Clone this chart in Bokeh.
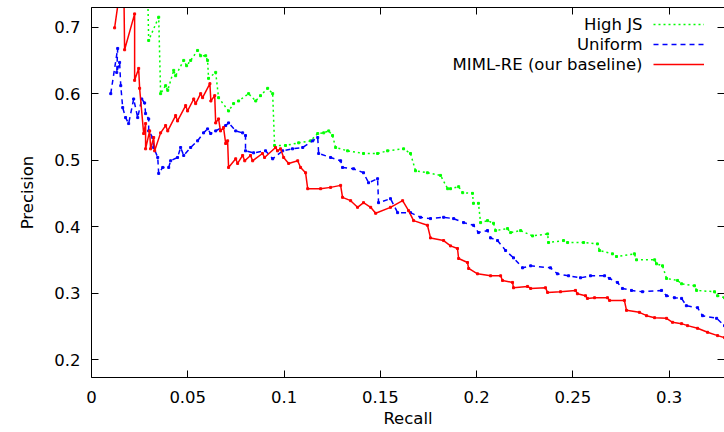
from bokeh.plotting import figure
from bokeh.models import Range1d, LinearAxis, Legend, LegendItem, Label, FixedTicker
from bokeh.embed import file_html
from bokeh.resources import INLINE

# ---- data (recall, precision) ----
miml = [(0.0120, 0.699), (0.0150, 0.760), (0.0168, 0.760), (0.0172, 0.666), (0.0224, 0.720),
        (0.0224, 0.620), (0.0245, 0.638), (0.0250, 0.608), (0.0271, 0.540), (0.0281, 0.555),
        (0.0281, 0.517), (0.0302, 0.544), (0.0307, 0.517), (0.0323, 0.534), (0.0328, 0.514),
        (0.0359, 0.541), (0.0385, 0.552), (0.0396, 0.544), (0.0437, 0.567), (0.0447, 0.559),
        (0.0489, 0.582), (0.0499, 0.574), (0.0531, 0.592), (0.0541, 0.585), (0.0567, 0.600),
        (0.0577, 0.594), (0.0615, 0.615), (0.0620, 0.589), (0.0640, 0.597), (0.0645, 0.556),
        (0.0660, 0.562), (0.0670, 0.544), (0.0686, 0.549), (0.0697, 0.525), (0.0707, 0.529),
        (0.0712, 0.489), (0.0749, 0.502), (0.0759, 0.495), (0.0785, 0.507), (0.0796, 0.499),
        (0.0826, 0.507), (0.0837, 0.499), (0.0888, 0.510), (0.0899, 0.504), (0.0956, 0.519),
        (0.0966, 0.514), (0.0982, 0.517), (0.0998, 0.504), (0.1024, 0.495), (0.1071, 0.499),
        (0.1086, 0.489), (0.1112, 0.481), (0.1123, 0.457), (0.1190, 0.457), (0.1242, 0.459),
        (0.1294, 0.462), (0.1304, 0.444), (0.1346, 0.439), (0.1382, 0.429), (0.1413, 0.436),
        (0.1450, 0.429), (0.1476, 0.420), (0.1553, 0.429), (0.1616, 0.439), (0.1647, 0.424),
        (0.1673, 0.409), (0.1745, 0.402), (0.1761, 0.383), (0.1829, 0.379), (0.1865, 0.371),
        (0.1901, 0.367), (0.1907, 0.352), (0.1953, 0.346), (0.1959, 0.337), (0.2005, 0.329),
        (0.2073, 0.326), (0.2125, 0.326), (0.2135, 0.319), (0.2187, 0.316), (0.2192, 0.308),
        (0.2265, 0.310), (0.2281, 0.307), (0.2358, 0.308), (0.2369, 0.301), (0.2436, 0.302),
        (0.2514, 0.304), (0.2524, 0.299), (0.2566, 0.296), (0.2576, 0.292), (0.2613, 0.293),
        (0.2680, 0.293), (0.2691, 0.289), (0.2768, 0.289), (0.2779, 0.274), (0.2846, 0.271),
        (0.2883, 0.266), (0.2925, 0.263), (0.2987, 0.262), (0.3018, 0.256), (0.3065, 0.254),
        (0.3096, 0.251), (0.3148, 0.247), (0.3200, 0.241), (0.3252, 0.236), (0.3288, 0.233),
        (0.3330, 0.230)]

uniform = [(0.0100, 0.600), (0.0136, 0.668), (0.0131, 0.632), (0.0146, 0.647), (0.0152, 0.612),
           (0.0162, 0.579), (0.0177, 0.564), (0.0193, 0.555), (0.0219, 0.592), (0.0240, 0.564),
           (0.0261, 0.592), (0.0276, 0.586), (0.0281, 0.570), (0.0297, 0.562), (0.0297, 0.544),
           (0.0318, 0.534), (0.0323, 0.519), (0.0344, 0.504), (0.0349, 0.480), (0.0370, 0.489),
           (0.0401, 0.489), (0.0411, 0.499), (0.0447, 0.504), (0.0463, 0.519), (0.0479, 0.507),
           (0.0515, 0.519), (0.0551, 0.529), (0.0582, 0.541), (0.0603, 0.547), (0.0619, 0.540),
           (0.0645, 0.544), (0.0697, 0.552), (0.0712, 0.556), (0.0749, 0.544), (0.0785, 0.541),
           (0.0800, 0.537), (0.0800, 0.514), (0.0842, 0.511), (0.0904, 0.514), (0.0941, 0.502),
           (0.0993, 0.514), (0.1044, 0.517), (0.1097, 0.519), (0.1149, 0.529), (0.1175, 0.534),
           (0.1180, 0.510), (0.1242, 0.504), (0.1294, 0.499), (0.1304, 0.489), (0.1361, 0.487),
           (0.1413, 0.481), (0.1439, 0.466), (0.1486, 0.472), (0.1491, 0.436), (0.1553, 0.442),
           (0.1590, 0.421), (0.1657, 0.421), (0.1709, 0.414), (0.1761, 0.412), (0.1829, 0.414),
           (0.1881, 0.412), (0.1933, 0.406), (0.1984, 0.402), (0.2010, 0.391), (0.2057, 0.394),
           (0.2073, 0.383), (0.2109, 0.379), (0.2151, 0.364), (0.2192, 0.353), (0.2239, 0.338),
           (0.2281, 0.341), (0.2384, 0.338), (0.2420, 0.329), (0.2478, 0.326), (0.2540, 0.323),
           (0.2592, 0.326), (0.2665, 0.326), (0.2691, 0.322), (0.2732, 0.316), (0.2758, 0.307),
           (0.2805, 0.304), (0.2862, 0.302), (0.2961, 0.304), (0.2987, 0.296), (0.3028, 0.293),
           (0.3065, 0.292), (0.3090, 0.281), (0.3148, 0.278), (0.3174, 0.266), (0.3247, 0.262),
           (0.3288, 0.251), (0.3330, 0.246)]

high_js = [(0.0290, 0.780), (0.0297, 0.680), (0.0349, 0.715), (0.0359, 0.600), (0.0385, 0.612),
           (0.0396, 0.605), (0.0427, 0.635), (0.0437, 0.627), (0.0479, 0.650), (0.0494, 0.642),
           (0.0515, 0.650), (0.0551, 0.665), (0.0567, 0.657), (0.0593, 0.657), (0.0603, 0.650),
           (0.0608, 0.623), (0.0645, 0.632), (0.0660, 0.594), (0.0712, 0.574), (0.0738, 0.585),
           (0.0764, 0.589), (0.0816, 0.600), (0.0853, 0.589), (0.0878, 0.597), (0.0915, 0.608),
           (0.0941, 0.600), (0.0951, 0.522), (0.1008, 0.522), (0.1076, 0.526), (0.1138, 0.529),
           (0.1175, 0.540), (0.1206, 0.541), (0.1232, 0.544), (0.1252, 0.537), (0.1268, 0.519),
           (0.1330, 0.514), (0.1413, 0.510), (0.1486, 0.510), (0.1538, 0.514), (0.1621, 0.517),
           (0.1657, 0.510), (0.1683, 0.484), (0.1745, 0.481), (0.1813, 0.477), (0.1850, 0.457),
           (0.1865, 0.457), (0.1907, 0.460), (0.1928, 0.451), (0.1979, 0.450), (0.1984, 0.435),
           (0.2010, 0.435), (0.2021, 0.406), (0.2057, 0.409), (0.2088, 0.405), (0.2099, 0.394),
           (0.2161, 0.397), (0.2177, 0.391), (0.2229, 0.394), (0.2291, 0.386), (0.2369, 0.389),
           (0.2374, 0.376), (0.2452, 0.379), (0.2473, 0.376), (0.2556, 0.376), (0.2628, 0.374),
           (0.2639, 0.364), (0.2706, 0.359), (0.2727, 0.355), (0.2820, 0.359), (0.2831, 0.350),
           (0.2925, 0.350), (0.2935, 0.344), (0.2966, 0.341), (0.2987, 0.322), (0.3044, 0.319),
           (0.3065, 0.314), (0.3132, 0.311), (0.3143, 0.304), (0.3236, 0.302), (0.3252, 0.296),
           (0.3288, 0.293), (0.3330, 0.290)]

series_names = ["High JS", "Uniform", "MIML-RE (our baseline)"]
x_ticks = [0, 0.05, 0.1, 0.15, 0.2, 0.25, 0.3]
x_tick_labels = ["0", "0.05", "0.1", "0.15", "0.2", "0.25", "0.3"]
y_ticks = [0.2, 0.3, 0.4, 0.5, 0.6, 0.7]
y_tick_labels = ["0.2", "0.3", "0.4", "0.5", "0.6", "0.7"]
x_title = "Recall"
y_title = "Precision"

FONT = "DejaVu Sans"
FS = "16.5px"

p = figure(width=724, height=432, output_backend="svg", toolbar_location=None,
           x_range=Range1d(0, 0.3288), y_range=Range1d(0.173, 0.7296),
           min_border_left=91, min_border_right=0, min_border_top=7, min_border_bottom=55,
           x_axis_label=x_title, y_axis_label=y_title)
p.outline_line_color = None
p.grid.visible = False
p.background_fill_color = "white"
p.border_fill_color = "white"


def style_axis(ax, ticks, labels, show_labels=True):
    ax.ticker = FixedTicker(ticks=ticks)
    ax.axis_line_color = "black"
    ax.axis_line_width = 1
    ax.major_tick_line_color = "black"
    ax.major_tick_in = 7
    ax.major_tick_out = 0
    ax.minor_tick_in = 0
    ax.minor_tick_out = 0
    ax.major_label_text_font = FONT
    ax.major_label_text_color = "black"
    if show_labels:
        ax.major_label_overrides = {t: l for t, l in zip(ticks, labels)}
        ax.major_label_text_font_size = FS
    else:
        ax.major_label_overrides = {t: "" for t in ticks}
        ax.major_label_text_font_size = "0px"
        ax.major_label_standoff = 0


style_axis(p.xaxis[0], x_ticks, x_tick_labels)
style_axis(p.yaxis[0], y_ticks, y_tick_labels)
p.xaxis[0].major_label_standoff = 13
p.yaxis[0].major_label_standoff = 11
for ax in (p.xaxis[0], p.yaxis[0]):
    ax.axis_label_text_font = FONT
    ax.axis_label_text_font_size = FS
    ax.axis_label_text_font_style = "normal"
    ax.axis_label_text_color = "black"
p.xaxis[0].axis_label_standoff = 3
p.yaxis[0].axis_label_standoff = 14

top_ax = LinearAxis()
right_ax = LinearAxis()
style_axis(top_ax, x_ticks, x_tick_labels, show_labels=False)
style_axis(right_ax, y_ticks, y_tick_labels, show_labels=False)
p.add_layout(top_ax, "above")
p.add_layout(right_ax, "right")

styles = [
    (high_js, "#00ff00", "2 3"),
    (uniform, "#0000ff", "5 4"),
    (miml, "#ff0000", "solid"),
]
items = []
for (data, color, dash), name in zip(styles, series_names):
    xs = [a for a, b in data]
    ys = [b for a, b in data]
    lr = p.line(xs, ys, line_color=color, line_width=1.5, line_dash=dash)
    p.scatter(xs, ys, marker="square", size=2, fill_color=color, line_color=color)
    items.append(LegendItem(label=" ", renderers=[lr]))

legend = Legend(items=items, location=(562, 303), orientation="vertical",
                glyph_width=51, glyph_height=20, label_height=20, label_width=1,
                label_standoff=0, spacing=0, padding=0, margin=0,
                border_line_color=None, background_fill_alpha=0,
                label_text_font_size="1px")
p.add_layout(legend, "center")

for i, name in enumerate(series_names):
    p.add_layout(Label(x=551, y=353 - 20 * i, x_units="screen", y_units="screen",
                       text=name, text_align="right", text_baseline="middle",
                       text_font=FONT, text_font_size=FS, text_color="black"))

open("out.html", "w").write(file_html(p, INLINE))
